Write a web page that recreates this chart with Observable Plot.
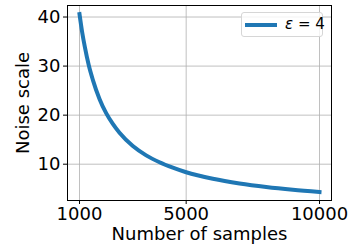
<!DOCTYPE html>
<html><head><meta charset="utf-8">
<script src="https://cdn.jsdelivr.net/npm/d3@7"></script>
<script src="https://cdn.jsdelivr.net/npm/@observablehq/plot@0.6"></script>
<style>
body{margin:0;background:#fff;}
#wrap{position:relative;width:350px;height:245px;font-family:"DejaVu Sans",sans-serif;}
#legend{position:absolute;left:241px;top:12px;width:82px;height:25px;box-sizing:border-box;border:1px solid #d6d6d6;border-radius:3px;background:rgba(255,255,255,0.8);}
#legend .ln{position:absolute;left:3px;top:9.5px;width:32px;height:4px;background:#1f77b4;}
#legend .tx{position:absolute;left:43px;top:2px;font-size:15px;line-height:18px;color:#000;white-space:nowrap;}
</style></head>
<body>
<div id="wrap"><div id="legend"><div class="ln"></div><div class="tx"><i>ε</i> = 4</div></div></div>
<script>
const samples = [1000, 1100, 1200, 1350, 1500, 1750, 2000, 2250, 2500, 3000, 3500, 4000, 4500, 5000, 6000, 7000, 8000, 9000, 10000];
const noise   = [40.6, 36.9, 33.9, 30.1, 27.2, 23.3, 20.4, 18.2, 16.4, 13.7, 11.8, 10.4, 9.3, 8.36, 7.02, 6.06, 5.34, 4.78, 4.33];
const xTicks = [1000, 5000, 10000];
const yTicks = [10, 20, 30, 40];

const data = samples.map((n, i) => ({n, v: noise[i]}));

const chart = Plot.plot({
  width: 350,
  height: 245,
  marginLeft: 67,
  marginRight: 19,
  marginTop: 5,
  marginBottom: 45,
  style: {fontFamily: "DejaVu Sans, sans-serif", color: "#000", background: "#fff"},
  x: {domain: [550, 10450]},
  y: {domain: [2.6, 42.35]},
  marks: [
    Plot.ruleX(xTicks, {stroke: "#b0b0b0", strokeWidth: 0.8}),
    Plot.ruleY(yTicks, {stroke: "#b0b0b0", strokeWidth: 0.8}),
    Plot.line(data, {x: "n", y: "v", stroke: "#1f77b4", strokeWidth: 4, strokeLinecap: "square", curve: "monotone-x"}),
    Plot.frame({stroke: "#000", strokeWidth: 1}),
    Plot.axisX(xTicks, {tickSize: 4, tickPadding: 3, fontSize: 18, tickFormat: d => String(d), label: "Number of samples", labelAnchor: "center", labelOffset: 39, labelArrow: "none"}),
    Plot.axisY(yTicks, {tickSize: 4, tickPadding: 3, fontSize: 18, tickFormat: d => String(d), label: "Noise scale", labelAnchor: "center", labelOffset: 51, labelArrow: "none"})
  ]
});
document.getElementById("wrap").prepend(chart);
</script>
</body></html>
